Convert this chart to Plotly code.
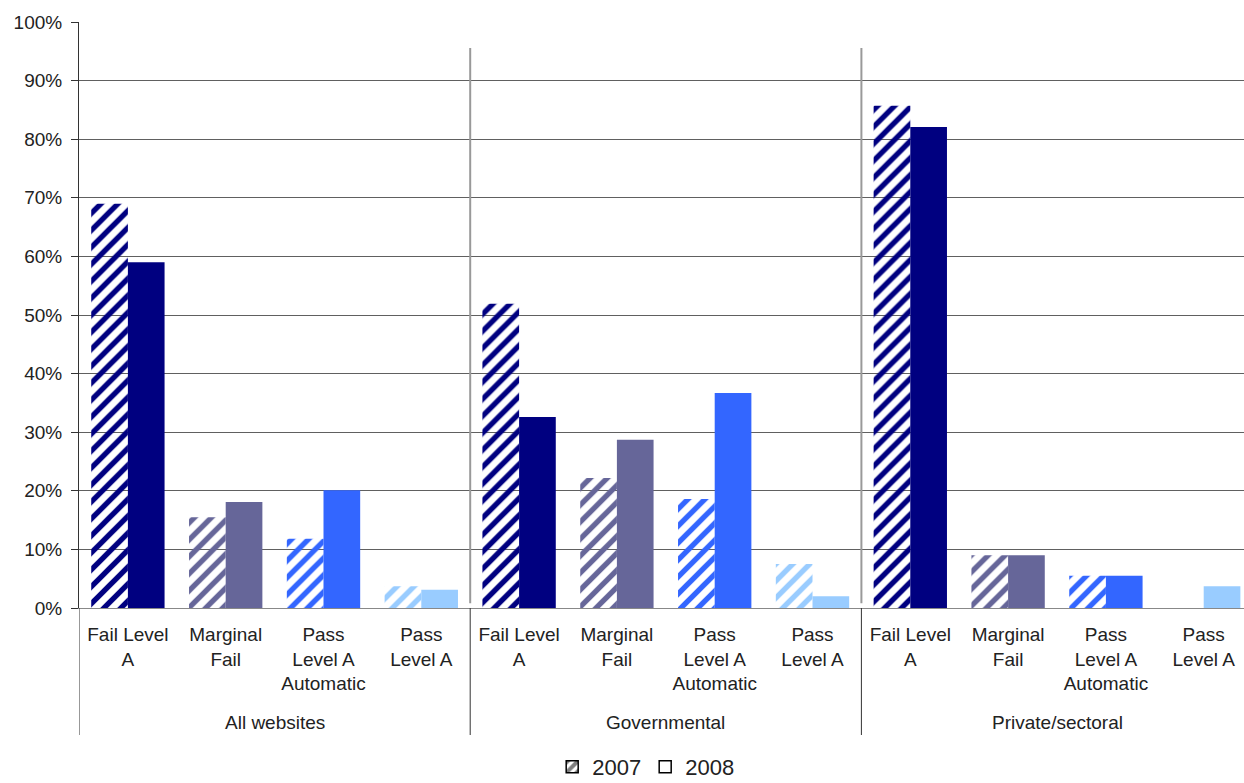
import plotly.graph_objects as go

# Website accessibility results by group, share of sites (%)
groups = ["All websites", "Governmental", "Private/sectoral"]
subcats = ["Fail Level<br>A", "Marginal<br>Fail", "Pass<br>Level A<br>Automatic", "Pass<br>Level A"]
vals_2007 = [69.0, 15.5, 11.8, 3.7,
             51.9, 22.2, 18.6, 7.5,
             85.7, 9.0, 5.5, 0.0]
vals_2008 = [59.0, 18.1, 20.1, 3.1,
             32.6, 28.7, 36.7, 2.0,
             82.1, 9.0, 5.5, 3.7]
subcat_colors = ["#000080", "#666699", "#3366FF", "#99CCFF"]

n_sub = len(subcats)
n = len(groups) * n_sub
xs = list(range(n))
colors = [subcat_colors[i % n_sub] for i in range(n)]
ticktext = [subcats[i % n_sub] for i in range(n)]

FONT = "Liberation Sans, Arial, sans-serif"
TXT = "#222222"
BAR_W = 0.375

fig = go.Figure()

# 2007: diagonal hatching in the category colour, transparent background
fig.add_trace(go.Bar(
    x=xs, y=vals_2007, width=BAR_W, offset=-BAR_W,
    marker=dict(color=colors, line=dict(width=0),
                pattern=dict(shape="/", fillmode="replace", size=12, solidity=0.45)),
    showlegend=False, hoverinfo="skip",
))
# 2008: solid fill
fig.add_trace(go.Bar(
    x=xs, y=vals_2008, width=BAR_W, offset=0,
    marker=dict(color=colors, line=dict(width=0)),
    showlegend=False, hoverinfo="skip",
))

# Legend entries (neutral black/white keys)
fig.add_trace(go.Bar(
    x=[None], y=[None], name="2007",
    marker=dict(color="white", line=dict(color="black", width=1.5),
                pattern=dict(shape="/", fgcolor="black", bgcolor="white", size=9, solidity=0.55)),
))
fig.add_trace(go.Bar(
    x=[None], y=[None], name="2008",
    marker=dict(color="white", line=dict(color="black", width=1.5)),
))

# Plot area geometry (pixels) used for paper-relative placement
TOP, BOTTOM = 22, 608
PH = BOTTOM - TOP
def py(pix):
    return (BOTTOM - pix) / PH

shapes = []
# Group separators inside the plot
for xb in [n_sub - 0.5 + k * n_sub for k in range(len(groups) - 1)]:
    shapes.append(dict(type="line", xref="x", yref="paper", x0=xb, x1=xb,
                       y0=0.008, y1=py(48), line=dict(color="#999999", width=2)))
# Group separators below the axis (including left edge)
for xb in [-0.5 + k * n_sub for k in range(len(groups) + 1)]:
    shapes.append(dict(type="line", xref="x", yref="paper", x0=xb, x1=xb,
                       y0=py(735), y1=0, line=dict(color="#333333", width=1)))

annotations = []
for gi, g in enumerate(groups):
    annotations.append(dict(text=g, xref="x", yref="paper",
                            x=gi * n_sub + (n_sub - 1) / 2, y=py(722),
                            xanchor="center", yanchor="middle", showarrow=False,
                            font=dict(family=FONT, size=19, color=TXT)))

fig.update_layout(
    width=1244, height=783,
    margin=dict(l=79, r=0, t=TOP, b=783 - BOTTOM, autoexpand=False),
    plot_bgcolor="white", paper_bgcolor="white",
    barmode="overlay",
    font=dict(family=FONT, size=19, color=TXT),
    shapes=shapes, annotations=annotations,
    legend=dict(orientation="h", x=0.486, xanchor="center", y=py(767), yanchor="middle",
                font=dict(family=FONT, size=22, color=TXT),
                itemwidth=30, entrywidthmode="pixels", entrywidth=48,
                traceorder="normal"),
    xaxis=dict(
        range=[-0.5, -0.5 + (1244 - 79) / 97.8],
        tickmode="array", tickvals=xs, ticktext=ticktext,
        showgrid=False, zeroline=False, ticks="",
        ticklabelstandoff=9,
        showline=True, linecolor="#888888", linewidth=1,
        tickfont=dict(family=FONT, size=19, color=TXT),
    ),
    yaxis=dict(
        range=[0, 100], dtick=10, ticksuffix="%",
        showgrid=True, gridcolor="#606060", gridwidth=1,
        zeroline=False, showline=True, linecolor="#333333", linewidth=1,
        ticks="outside", ticklen=7, tickcolor="#333333",
        ticklabelstandoff=5,
        tickfont=dict(family=FONT, size=19, color=TXT),
    ),
)

fig.write_html("out.html")
